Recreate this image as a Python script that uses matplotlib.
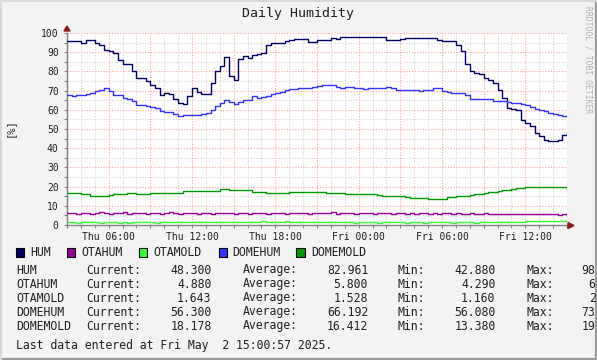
import numpy as np
import pandas as pd
import matplotlib
matplotlib.use('Agg')
import matplotlib.pyplot as plt
import matplotlib.dates as mdates
from matplotlib.patches import Rectangle, Polygon

# muestras cada 20 minutos, jueves 03:00 -> viernes 15:00
times = pd.date_range('2025-05-01 03:00', '2025-05-02 15:00', freq='20min')

hum = [95.7, 95.7, 95.7, 94.8, 96.5, 96.5, 94.8, 93.5, 91.3, 90.5,
       89.6, 85.8, 83.9, 83.9, 80.0, 76.5, 76.5, 74.8, 73.0, 71.4,
       67.5, 68.8, 68.0, 65.5, 63.5, 63.0, 67.0, 71.4, 69.5, 68.0,
       68.0, 74.0, 80.0, 83.0, 87.3, 77.5, 75.5, 86.5, 87.8, 87.0,
       88.5, 89.0, 89.5, 94.0, 94.8, 94.8, 95.0, 95.7, 96.5, 96.9,
       96.9, 96.9, 95.5, 95.5, 96.5, 96.5, 96.5, 97.4, 97.0, 97.9,
       97.9, 97.9, 97.9, 97.9, 97.9, 97.9, 97.9, 97.9, 97.9, 96.5,
       96.5, 96.5, 96.8, 97.4, 97.4, 97.4, 97.4, 97.4, 97.4, 97.4,
       96.5, 95.7, 95.7, 95.7, 94.0, 90.5, 84.0, 80.0, 79.0, 78.5,
       76.5, 75.7, 74.0, 70.5, 66.0, 61.0, 60.5, 60.0, 54.5, 53.0,
       51.5, 48.0, 46.5, 44.5, 43.8, 43.6, 44.4, 47.0, 48.3]

otahum = [6.1, 6.3, 5.9, 6.0, 6.2, 5.8, 6.1, 6.6, 6.0, 5.7,
          6.2, 6.0, 6.7, 5.9, 6.1, 6.0, 6.3, 5.8, 6.0, 6.2,
          5.9, 6.1, 6.6, 6.0, 5.8, 6.1, 6.0, 6.2, 5.9, 6.1,
          6.0, 5.8, 6.1, 6.3, 6.0, 6.5, 5.9, 6.1, 6.0, 5.8,
          6.2, 6.0, 6.1, 5.9, 6.3, 6.0, 6.1, 5.8, 6.0, 6.2,
          6.0, 6.4, 5.9, 6.1, 6.0, 6.3, 6.0, 6.6, 5.9, 6.1,
          6.2, 6.0, 5.8, 6.1, 6.0, 6.3, 5.9, 6.1, 6.0, 6.2,
          5.8, 6.1, 6.0, 5.9, 6.1, 5.8, 6.0, 6.2, 5.9, 6.0,
          5.8, 6.1, 6.0, 5.9, 6.0, 5.7, 5.9, 6.0, 5.8, 5.9,
          6.1, 5.8, 5.9, 5.6, 5.9, 5.8, 5.5, 5.9, 5.7, 5.8,
          5.6, 5.9, 5.7, 5.5, 5.8, 5.6, 5.4, 5.7, 4.9]

otamold = [1.5, 1.5, 1.2, 1.5, 1.5, 1.5, 1.5, 1.2, 1.5, 1.5,
           1.5, 1.2, 1.5, 1.2, 1.5, 1.5, 1.5, 1.5, 1.5, 1.2,
           1.5, 1.5, 1.5, 1.5, 1.5, 1.5, 1.5, 1.5, 1.5, 1.5,
           1.5, 1.5, 1.5, 1.5, 1.5, 1.5, 1.5, 1.5, 1.5, 1.5,
           1.5, 1.5, 2.0, 1.5, 1.5, 1.5, 1.5, 2.0, 1.5, 1.5,
           1.5, 1.5, 1.5, 1.5, 1.5, 1.5, 1.5, 1.5, 1.5, 1.5,
           1.5, 1.5, 1.2, 1.5, 1.5, 1.5, 1.5, 1.2, 1.5, 1.5,
           1.5, 1.5, 1.5, 1.2, 1.5, 1.5, 1.5, 1.2, 1.5, 1.5,
           1.5, 1.5, 1.5, 1.2, 1.5, 1.5, 1.5, 1.5, 1.2, 1.5,
           1.5, 1.5, 1.5, 1.5, 1.5, 1.5, 1.5, 1.5, 1.5, 2.0,
           2.0, 1.9, 2.0, 2.0, 1.9, 2.0, 2.0, 1.9, 1.6]

domehum = [67.9, 67.0, 67.9, 67.9, 68.3, 69.0, 69.6, 70.5, 71.4, 69.6,
           67.9, 67.9, 66.1, 65.8, 64.4, 62.7, 62.3, 62.0, 61.5, 60.9,
           59.5, 59.0, 58.6, 57.8, 56.9, 57.1, 57.1, 57.1, 57.5, 58.0,
           58.3, 60.0, 61.8, 63.5, 65.3, 64.0, 63.0, 64.0, 65.3, 65.3,
           67.0, 66.1, 66.5, 67.0, 68.2, 69.0, 69.5, 70.5, 70.8, 70.8,
           71.2, 71.4, 71.5, 71.7, 72.2, 72.7, 72.7, 72.7, 71.8, 71.4,
           72.0, 71.7, 71.4, 71.2, 70.8, 71.2, 71.4, 71.4, 71.5, 71.7,
           71.2, 70.5, 70.5, 70.5, 70.5, 70.3, 70.0, 70.3, 70.5, 71.4,
           71.2, 69.8, 69.3, 69.0, 68.8, 68.8, 67.5, 65.8, 65.8, 65.8,
           65.8, 65.8, 64.8, 64.8, 64.8, 64.0, 63.8, 63.5, 62.9, 62.5,
           61.5, 60.6, 60.0, 59.2, 58.5, 57.8, 57.3, 56.8, 56.3]

domemold = [16.5, 16.5, 16.5, 16.0, 16.0, 15.1, 15.1, 15.1, 15.1, 15.6,
            16.1, 16.1, 16.1, 16.5, 16.5, 16.1, 16.1, 16.1, 16.8, 16.8,
            16.8, 16.8, 16.8, 16.8, 16.8, 17.5, 17.5, 17.5, 17.5, 17.5,
            17.5, 17.5, 17.5, 18.6, 18.6, 18.1, 18.1, 18.1, 18.1, 18.1,
            17.4, 17.4, 17.4, 16.8, 16.8, 16.8, 16.8, 16.8, 17.0, 17.0,
            17.0, 17.0, 17.0, 17.0, 17.0, 17.0, 16.5, 16.5, 16.5, 16.5,
            16.1, 16.1, 16.1, 16.1, 16.1, 16.1, 16.1, 15.6, 15.1, 15.1,
            15.1, 15.1, 15.1, 14.5, 14.2, 14.2, 14.2, 13.9, 13.7, 13.7,
            13.7, 13.7, 14.4, 14.8, 15.3, 15.3, 15.3, 15.8, 16.1, 16.1,
            16.8, 17.4, 17.4, 17.8, 18.2, 18.2, 18.6, 19.1, 19.1, 19.9,
            19.9, 19.9, 19.9, 19.9, 19.9, 19.6, 19.6, 19.6, 18.2]

names = ['HUM', 'OTAHUM', 'OTAMOLD', 'DOMEHUM', 'DOMEMOLD']
colors = ['#000066', '#990099', '#33FF33', '#3333FF', '#009900']
series = [hum, otahum, otamold, domehum, domemold]

stats = {
    'HUM':      ('48.300', '82.961', '42.880', '98.050'),
    'OTAHUM':   ('4.880', '5.800', '4.290', '6.860'),
    'OTAMOLD':  ('1.643', '1.528', '1.160', '2.440'),
    'DOMEHUM':  ('56.300', '66.192', '56.080', '73.110'),
    'DOMEMOLD': ('18.178', '16.412', '13.380', '19.900'),
}

W, H = 597, 360
mono = 'DejaVu Sans Mono'
fig = plt.figure(figsize=(W / 100, H / 100), dpi=100)
fig.patch.set_facecolor('#F3F3F3')

def px(x, y):
    return x / W, 1 - y / H

ax = fig.add_axes([67 / W, 1 - 225 / H, 500 / W, 192 / H])
ax.set_facecolor('white')

t0 = pd.Timestamp('2025-05-01 03:00')
t1 = pd.Timestamp('2025-05-02 15:00')
ax.set_xlim(t0, t1)
ax.set_ylim(0, 100)

# rejilla
ax.xaxis.set_major_locator(mdates.HourLocator(byhour=[0, 6, 12, 18]))
ax.xaxis.set_major_formatter(mdates.DateFormatter('%a %H:%M'))
ax.xaxis.set_minor_locator(mdates.HourLocator())
ax.set_yticks(np.arange(0, 101, 10))
ax.set_yticks(np.arange(0, 101, 5), minor=True)

for h in pd.date_range(t0, t1, freq='1h'):
    major = h.hour % 3 == 0
    ax.axvline(h, color='#FFA0A0' if major else '#D4D4D4',
               lw=0.8, ls=(0, (1, 1.5)), zorder=1)
for v in range(0, 101, 5):
    ax.axhline(v, color='#FFA0A0' if v % 10 == 0 else '#D4D4D4',
               lw=0.8, ls=(0, (1, 1.5)), zorder=1)

for s, c in zip(series, colors):
    ax.plot(times, s, color=c, lw=1.0, drawstyle='steps-post', zorder=3)

for sp in ['top', 'right']:
    ax.spines[sp].set_visible(False)
for sp in ['left', 'bottom']:
    ax.spines[sp].set_color('#808080')
    ax.spines[sp].set_linewidth(1.0)
ax.tick_params(axis='both', which='both', colors='#808080', labelcolor='#202020',
               labelsize=7, length=2, width=0.8)
ax.tick_params(axis='x', pad=3)
ax.tick_params(axis='y', pad=4)
for lbl in ax.get_xticklabels() + ax.get_yticklabels():
    lbl.set_fontfamily(mono)

# flechas de los ejes
fig.patches.append(Polygon([px(64, 31), px(70, 31), px(67, 26)], closed=True,
                           transform=fig.transFigure, color='#8B1A1A', clip_on=False))
fig.patches.append(Polygon([px(568, 222.5), px(568, 228.5), px(574, 225.5)], closed=True,
                           transform=fig.transFigure, color='#8B1A1A', clip_on=False))

fig.text(*px(298, 14), 'Daily Humidity', ha='center', va='center',
         fontsize=9.5, family=mono, color='#202020')
fig.text(*px(10, 128), '[%]', ha='center', va='center', rotation=90,
         fontsize=7.5, family=mono, color='#202020')
fig.text(*px(588, 60), 'RRDTOOL / TOBI OETIKER', ha='center', va='center',
         rotation=270, fontsize=5.8, family=mono, color='#B0B0B0')

# leyenda
box_x = [15.5, 66.5, 138.5, 218.5, 296]
text_x = [30.5, 81, 153.5, 232.5, 311.5]
for name, c, bx, tx in zip(names, colors, box_x, text_x):
    x0, y0 = px(bx, 256.5)
    fig.patches.append(Rectangle((x0, y0), 8.5 / W, 8.5 / H, transform=fig.transFigure,
                                 facecolor=c, edgecolor='black', lw=0.8))
    fig.text(*px(tx, 252), name, ha='left', va='center', fontsize=8.3,
             family=mono, color='#202020')

rows_y = [270, 284, 298, 312, 326]
for name, ry in zip(names, rows_y):
    cur, avg, mn, mx = stats[name]
    kw = dict(va='center', fontsize=8.3, family=mono, color='#202020')
    fig.text(*px(16, ry), name, ha='left', **kw)
    fig.text(*px(86.5, ry), 'Current:', ha='left', **kw)
    fig.text(*px(211.5, ry), cur, ha='right', **kw)
    fig.text(*px(242.5, ry), 'Average:', ha='left', **kw)
    fig.text(*px(368, ry), avg, ha='right', **kw)
    fig.text(*px(397.5, ry), 'Min:', ha='left', **kw)
    fig.text(*px(495.5, ry), mn, ha='right', **kw)
    fig.text(*px(526.5, ry), 'Max:', ha='left', **kw)
    fig.text(*px(623, ry), mx, ha='right', **kw)

fig.text(*px(16, 346), 'Last data entered at Fri May  2 15:00:57 2025.',
         ha='left', va='center', fontsize=8.3, family=mono, color='#202020')

# marco
fig.add_artist(plt.Line2D([0, 1], [1 - 358.5 / H] * 2, transform=fig.transFigure,
                          color='#9A9A9A', lw=1.6))
fig.add_artist(plt.Line2D([1 - 1.5 / W] * 2, [0, 1], transform=fig.transFigure,
                          color='#9A9A9A', lw=1.6))
fig.add_artist(plt.Line2D([0, 1], [1 - 0.8 / H] * 2, transform=fig.transFigure,
                          color='#D8D8D8', lw=1.4))
fig.add_artist(plt.Line2D([0.8 / W] * 2, [0, 1], transform=fig.transFigure,
                          color='#D8D8D8', lw=1.4))

fig.savefig('out.png', dpi=100, facecolor=fig.get_facecolor())
